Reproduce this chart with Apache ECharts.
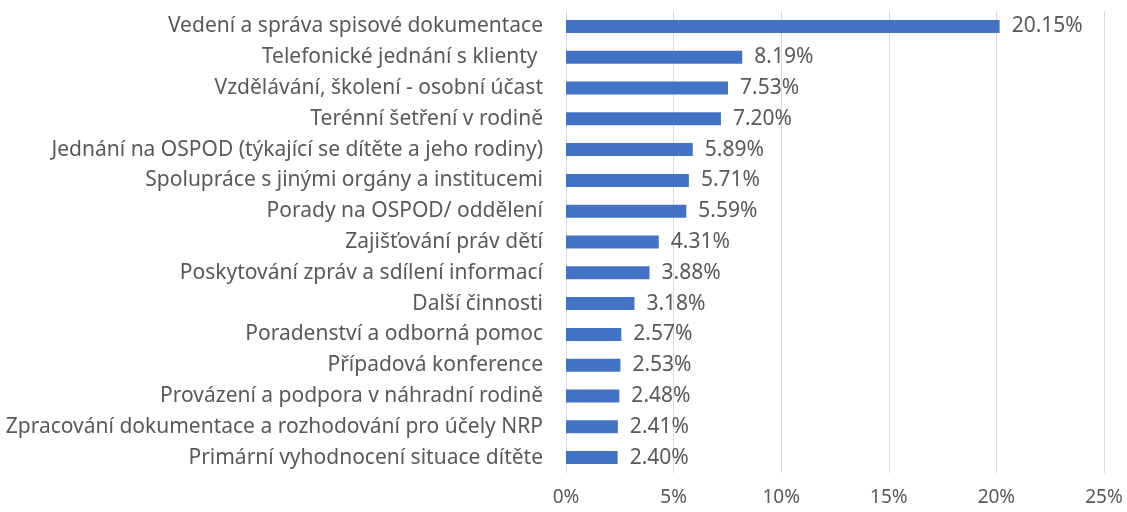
<!DOCTYPE html>
<html>
<head>
<meta charset="utf-8">
<script src="https://cdn.jsdelivr.net/npm/echarts@6/dist/echarts.min.js"></script>
<style>
  html, body { margin: 0; padding: 0; background: #fff; }
  #chart { width: 1127px; height: 512px; }
</style>
</head>
<body>
<div id="chart"></div>
<script>
// categories listed from top to bottom
var categories = [
  'Vedení a správa spisové dokumentace',
  'Telefonické jednání s klienty ',
  'Vzdělávání, školení - osobní účast',
  'Terénní šetření v rodině',
  'Jednání na OSPOD (týkající se dítěte a jeho rodiny)',
  'Spolupráce s jinými orgány a institucemi',
  'Porady na OSPOD/ oddělení',
  'Zajišťování práv dětí',
  'Poskytování zpráv a sdílení informací',
  'Další činnosti',
  'Poradenství a odborná pomoc',
  'Případová konference',
  'Provázení a podpora v náhradní rodině',
  'Zpracování dokumentace a rozhodování pro účely NRP',
  'Primární vyhodnocení situace dítěte'
];
var shares = [0.2015, 0.0819, 0.0753, 0.0720, 0.0589, 0.0571, 0.0559, 0.0431, 0.0388, 0.0318, 0.0257, 0.0253, 0.0248, 0.0241, 0.0240];
var xTicks = [0, 0.05, 0.10, 0.15, 0.20, 0.25];

var font = 'Noto Sans';
var textColor = '#595959';

var myChart = echarts.init(document.getElementById('chart'));
var option = {
  animation: false,
  grid: { left: 566, right: 23, top: 11, bottom: 39, containLabel: false },
  xAxis: {
    type: 'value',
    min: xTicks[0],
    max: xTicks[xTicks.length - 1],
    interval: 0.05,
    axisLine: { show: false },
    axisTick: { show: false },
    splitLine: { lineStyle: { color: '#d9d9d9', width: 1 } },
    axisLabel: {
      color: textColor, fontFamily: font, fontSize: 19, margin: 15,
      formatter: function (v) { return Math.round(v * 100) + '%'; }
    }
  },
  yAxis: {
    type: 'category',
    inverse: true,
    data: categories,
    axisLine: { show: false },
    axisTick: { show: false },
    axisLabel: { color: textColor, fontFamily: font, fontSize: 21, margin: 23 }
  },
  series: [{
    type: 'bar',
    data: shares,
    barWidth: 13,
    itemStyle: { color: '#4472C4' },
    label: {
      show: true,
      position: 'right',
      distance: 12,
      color: textColor,
      fontFamily: font,
      fontSize: 21,
      formatter: function (p) { return (p.value * 100).toFixed(2) + '%'; }
    }
  }]
};
myChart.setOption(option, true);
</script>
</body>
</html>
